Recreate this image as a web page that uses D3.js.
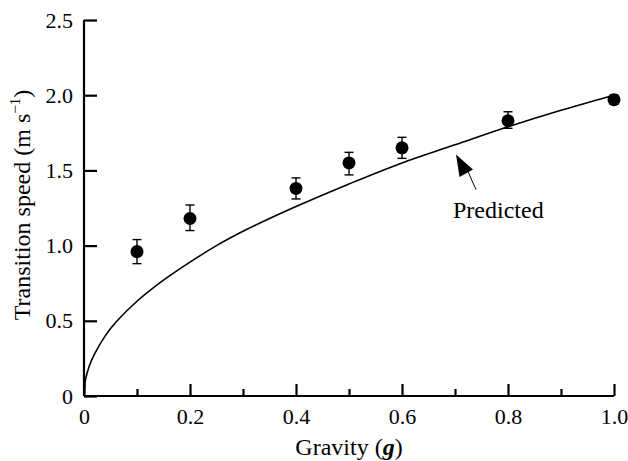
<!DOCTYPE html>
<html><head><meta charset="utf-8">
<script src="https://cdn.jsdelivr.net/npm/d3@7"></script>
<style>body{margin:0;background:#fff}svg{display:block}text{font-family:"Liberation Serif";fill:#000}</style>
</head><body><svg id="c" width="628" height="461"></svg>
<script>
const gravity = [0.1, 0.2, 0.4, 0.5, 0.6, 0.8, 1.0];
const speed   = [0.96, 1.18, 1.38, 1.55, 1.65, 1.83, 1.97];
const errLow  = [0.88, 1.10, 1.31, 1.47, 1.58, 1.78, 1.94];
const errHigh = [1.04, 1.27, 1.45, 1.62, 1.72, 1.89, 2.00];
const predX = [0, 0.003, 0.01, 0.02, 0.04, 0.06, 0.1, 0.15, 0.2, 0.25, 0.3, 0.35, 0.4, 0.5, 0.6, 0.7, 0.8, 0.9, 1.0];
const predY = [0, 0.11, 0.2, 0.28, 0.40, 0.49, 0.63, 0.77, 0.89, 1.00, 1.095, 1.18, 1.26, 1.41, 1.55, 1.67, 1.79, 1.90, 2.0];
const xTicks = [0, 0.2, 0.4, 0.6, 0.8, 1.0];
const xTickLabels = ["0", "0.2", "0.4", "0.6", "0.8", "1.0"];
const xMinorTicks = [0.1, 0.3, 0.5, 0.7, 0.9];
const yTicks = [0, 0.5, 1.0, 1.5, 2.0, 2.5];
const yTickLabels = ["0", "0.5", "1.0", "1.5", "2.0", "2.5"];

const svg = d3.select("#c");
const x = d3.scaleLinear().domain([0, 1]).range([84, 614]);
const y = d3.scaleLinear().domain([0, 2.5]).range([396, 20]);
const FS = 22;

// x axis
const gx = svg.append("g").attr("transform", `translate(0,${y(0)})`)
  .call(d3.axisBottom(x).tickValues(xTicks).tickSize(-12).tickFormat((d,i)=>xTickLabels[i]).tickPadding(12));
const gxm = svg.append("g").attr("transform", `translate(0,${y(0)})`)
  .call(d3.axisBottom(x).tickValues(xMinorTicks).tickSize(-7).tickFormat(""));
gxm.select(".domain").remove();

// y axis
const gy = svg.append("g").attr("transform", `translate(${x(0)},0)`)
  .call(d3.axisLeft(y).tickValues(yTicks).tickSize(-13).tickFormat((d,i)=>yTickLabels[i]).tickPadding(11));

svg.selectAll("g").attr("font-family", null).attr("font-size", null);
svg.selectAll("g text").style("font-size", FS + "px");
gx.selectAll("text").attr("dy", "0.71em");
gx.select(".domain").attr("d", `M${x(0)},0H${x(1)}`).attr("stroke-width", 2.2);
gy.select(".domain").attr("d", `M0,${y(0)}V${y(2.5)}`).attr("stroke-width", 2.2);
svg.selectAll(".tick line").attr("stroke-width", 2.2);

// predicted curve
const line = d3.line().x(d=>x(d[0])).y(d=>y(d[1])).curve(d3.curveCatmullRom);
svg.append("path").datum(predX.map((v,i)=>[v, predY[i]]))
  .attr("d", line).attr("fill", "none").attr("stroke", "#000").attr("stroke-width", 1.6);

// error bars
const eb = svg.append("g").attr("stroke", "#000").attr("stroke-width", 1.4);
gravity.forEach((g,i)=>{
  eb.append("line").attr("x1", x(g)).attr("x2", x(g)).attr("y1", y(errLow[i])).attr("y2", y(errHigh[i]));
  eb.append("line").attr("x1", x(g)-4.5).attr("x2", x(g)+4.5).attr("y1", y(errLow[i])).attr("y2", y(errLow[i]));
  eb.append("line").attr("x1", x(g)-4.5).attr("x2", x(g)+4.5).attr("y1", y(errHigh[i])).attr("y2", y(errHigh[i]));
});
svg.append("g").selectAll("circle").data(gravity).join("circle")
  .attr("cx", d=>x(d)).attr("cy", (d,i)=>y(speed[i])).attr("r", 6.5).attr("fill", "#000");

// annotation arrow
const tip = [x(0.7) + 1, y(1.605)];
svg.append("line").attr("x1", tip[0]+12).attr("y1", tip[1]+17).attr("x2", tip[0]+20).attr("y2", tip[1]+35)
  .attr("stroke", "#000").attr("stroke-width", 1);
svg.append("path").attr("d", `M${tip[0]},${tip[1]}L${tip[0]+3.5},${tip[1]+22.5}L${tip[0]+17},${tip[1]+15}Z`).attr("fill", "#000");
svg.append("text").attr("x", tip[0]-3).attr("y", tip[1]+63).style("font-size", "24px").text("Predicted");

// axis titles
const xt = svg.append("text").attr("x", (x(0)+x(1))/2).attr("y", 455).attr("text-anchor", "middle").style("font-size", "24px");
xt.append("tspan").text("Gravity (");
xt.append("tspan").attr("font-weight", "bold").attr("font-style", "italic").text("g");
xt.append("tspan").text(")");

const yt = svg.append("text").attr("transform", `translate(30,205) rotate(-90)`)
  .attr("text-anchor", "middle").style("font-size", "24px");
yt.append("tspan").text("Transition speed (m s");
yt.append("tspan").style("font-size", "15px").attr("dy", -10).text("−1");
yt.append("tspan").attr("dy", 10).text(")");
</script></body></html>
